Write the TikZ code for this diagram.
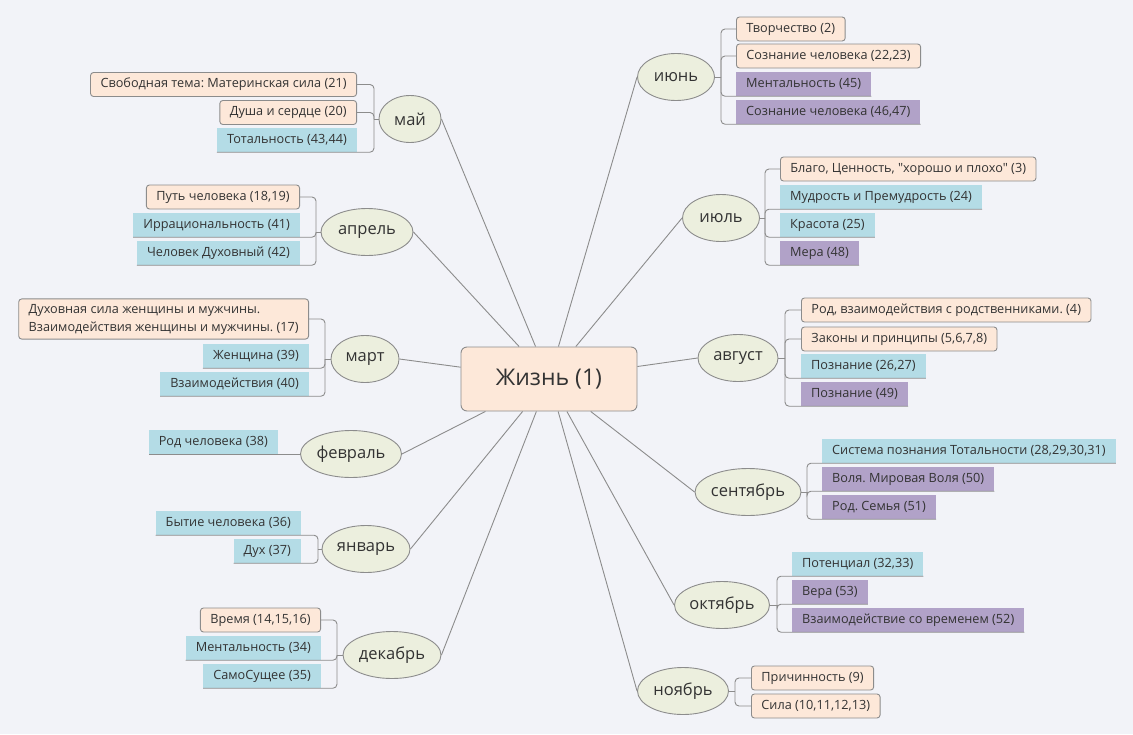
\documentclass[tikz,border=0pt]{standalone}
\usepackage{fontspec}
\setmainfont{Open Sans}[Ligatures=TeXOff]
\usetikzlibrary{shapes.geometric,positioning}
\definecolor{bgcol}{HTML}{F2F3F8}
\definecolor{linecol}{HTML}{8C8C8C}
\definecolor{peach}{HTML}{FDE8D9}
\definecolor{skyblue}{HTML}{B4DCE6}
\definecolor{lilac}{HTML}{B1A2C8}
\definecolor{monthfill}{HTML}{ECEFDE}
\definecolor{ink}{HTML}{333333}
\tikzset
{
	rootnode/.style  = {rectangle, rounded corners=6pt, draw=linecol, line width=0.9pt, fill=peach, minimum width=176pt, minimum height=64pt, text=ink, font=\fontsize{23}{27}\selectfont},
	monthnode/.style = {ellipse, draw=linecol, line width=0.9pt, fill=monthfill, minimum height=47pt, inner sep=0pt, text=ink, font=\fontsize{16.5}{20}\selectfont},
	peachnode/.style = {rectangle, rounded corners=3pt, draw=linecol, line width=0.9pt, fill=peach, minimum height=24pt, inner xsep=10pt, inner ysep=0pt, text=ink, font=\fontsize{12.7}{18}\selectfont},
	bluenode/.style  = {rectangle, fill=skyblue, minimum height=24pt, inner xsep=10pt, inner ysep=0pt, text=ink, font=\fontsize{12.7}{18}\selectfont},
	lilacnode/.style = {bluenode, fill=lilac},
	branch/.style    = {draw=linecol, line width=0.9pt},
	bracket/.style   = {branch, rounded corners=4pt}
}

\begin{document}
\frenchspacing
\begin{tikzpicture}[x=1pt, y=-1pt]
\fill[bgcol] (0,0) rectangle (1133,734);
\useasboundingbox (0,0) rectangle (1133,734);

\node[rootnode] (life) at (549,379) {Жизнь (1)};

% months
\node[monthnode, minimum width=62pt]  (may) at (410,119) {май};
\node[monthnode, minimum width=92pt]  (apr) at (367,232) {апрель};
\node[monthnode, minimum width=68pt]  (mar) at (365,359) {март};
\node[monthnode, minimum width=101pt] (feb) at (351,454) {февраль};
\node[monthnode, minimum width=88pt]  (jan) at (366,549) {январь};
\node[monthnode, minimum width=98pt]  (dec) at (392,655) {декабрь};
\node[monthnode, minimum width=77pt]  (jun) at (676,77)  {июнь};
\node[monthnode, minimum width=77pt]  (jul) at (721,218) {июль};
\node[monthnode, minimum width=80pt]  (aug) at (738,358) {август};
\node[monthnode, minimum width=106pt] (sep) at (748,492) {сентябрь};
\node[monthnode, minimum width=95pt]  (oct) at (722,605) {октябрь};
\node[monthnode, minimum width=91pt]  (nov) at (683,691) {ноябрь};

\foreach \m in {may,apr,mar,feb,jan,dec}
	\draw[branch] (\m.east) -- (life);
\foreach \m in {jun,jul,aug,sep,oct,nov}
	\draw[branch] (\m.west) -- (life);

% left side
\coordinate (mayJ) at (374,119);
\node[peachnode, anchor=east] (may1) at (357,84.5) {Свободная тема: Материнская сила (21)};
\node[peachnode, anchor=east] (may2) at (357,112.5) {Душа и сердце (20)};
\node[bluenode, anchor=east]  (may3) at (357,140) {Тотальность (43,44)};

\coordinate (aprJ) at (316,232);
\node[peachnode, anchor=east] (apr1) at (300,197) {Путь человека (18,19)};
\node[bluenode, anchor=east]  (apr2) at (300,225) {Иррациональность (41)};
\node[bluenode, anchor=east]  (apr3) at (300,253) {Человек Духовный (42)};

\coordinate (marJ) at (325,359);
\node[peachnode, anchor=east, align=left, inner ysep=5pt] (mar1) at (309,319) {Духовная сила женщины и мужчины.\\Взаимодействия женщины и мужчины. (17)};
\node[bluenode, anchor=east]  (mar2) at (309,356) {Женщина (39)};
\node[bluenode, anchor=east]  (mar3) at (309,384) {Взаимодействия (40)};

\node[bluenode, anchor=south east] (feb1) at (278,454) {Род человека (38)};

\coordinate (janJ) at (318,549);
\node[bluenode, anchor=east]  (jan1) at (301,523) {Бытие человека (36)};
\node[bluenode, anchor=east]  (jan2) at (301,551) {Дух (37)};

\coordinate (decJ) at (337,655);
\node[peachnode, anchor=east] (dec1) at (321,620) {Время (14,15,16)};
\node[bluenode, anchor=east]  (dec2) at (321,648) {Ментальность (34)};
\node[bluenode, anchor=east]  (dec3) at (321,676) {СамоСущее (35)};

% right side
\coordinate (junJ) at (721,77);
\node[peachnode, anchor=west] (jun1) at (736,29) {Творчество (2)};
\node[peachnode, anchor=west] (jun2) at (736,56) {Сознание человека (22,23)};
\node[lilacnode, anchor=west] (jun3) at (736,84) {Ментальность (45)};
\node[lilacnode, anchor=west] (jun4) at (736,112) {Сознание человека (46,47)};

\coordinate (julJ) at (765,218);
\node[peachnode, anchor=west] (jul1) at (780,169) {Благо, Ценность, "хорошо и плохо" (3)};
\node[bluenode, anchor=west]  (jul2) at (780,197) {Мудрость и Премудрость (24)};
\node[bluenode, anchor=west]  (jul3) at (780,225) {Красота (25)};
\node[lilacnode, anchor=west] (jul4) at (780,253) {Мера (48)};

\coordinate (augJ) at (785,358);
\node[peachnode, anchor=west] (aug1) at (801,310) {Род, взаимодействия с родственниками. (4)};
\node[peachnode, anchor=west] (aug2) at (801,339) {Законы и принципы (5,6,7,8)};
\node[bluenode, anchor=west]  (aug3) at (801,366) {Познание (26,27)};
\node[lilacnode, anchor=west] (aug4) at (801,394) {Познание (49)};

\coordinate (sepJ) at (807,492);
\node[bluenode, anchor=west]  (sep1) at (822,451) {Система познания Тотальности (28,29,30,31)};
\node[lilacnode, anchor=west] (sep2) at (822,479) {Воля. Мировая Воля (50)};
\node[lilacnode, anchor=west] (sep3) at (822,507) {Род. Семья (51)};

\coordinate (octJ) at (777,605);
\node[bluenode, anchor=west]  (oct1) at (792,564) {Потенциал (32,33)};
\node[lilacnode, anchor=west] (oct2) at (792,592) {Вера (53)};
\node[lilacnode, anchor=west] (oct3) at (792,620) {Взаимодействие со временем (52)};

\coordinate (novJ) at (735,691);
\node[peachnode, anchor=west] (nov1) at (751,678) {Причинность (9)};
\node[peachnode, anchor=west] (nov2) at (751,706) {Сила (10,11,12,13)};

% brackets
\foreach \m in {may,apr,mar,jan,dec}
	\draw[branch] (\m.west) -- (\m J);
\foreach \m in {jun,jul,aug,sep,oct,nov}
	\draw[branch] (\m.east) -- (\m J);
\draw[branch] (feb.west) -- (feb1.south west);

\foreach \c/\a in {may1/east, may2/east, may3/south west}
	\draw[bracket] (mayJ) |- (\c.\a);
\foreach \c/\a in {apr1/east, apr2/south west, apr3/south west}
	\draw[bracket] (aprJ) |- (\c.\a);
\foreach \c/\a in {mar1/east, mar2/south west, mar3/south west}
	\draw[bracket] (marJ) |- (\c.\a);
\foreach \c/\a in {jan1/south west, jan2/south west}
	\draw[bracket] (janJ) |- (\c.\a);
\foreach \c/\a in {dec1/east, dec2/south west, dec3/south west}
	\draw[bracket] (decJ) |- (\c.\a);
\foreach \c/\a in {jun1/west, jun2/west, jun3/south east, jun4/south east}
	\draw[bracket] (junJ) |- (\c.\a);
\foreach \c/\a in {jul1/west, jul2/south east, jul3/south east, jul4/south east}
	\draw[bracket] (julJ) |- (\c.\a);
\foreach \c/\a in {aug1/west, aug2/west, aug3/south east, aug4/south east}
	\draw[bracket] (augJ) |- (\c.\a);
\foreach \c/\a in {sep1/south east, sep2/south east, sep3/south east}
	\draw[bracket] (sepJ) |- (\c.\a);
\foreach \c/\a in {oct1/south east, oct2/south east, oct3/south east}
	\draw[bracket] (octJ) |- (\c.\a);
\foreach \c/\a in {nov1/west, nov2/west}
	\draw[bracket] (novJ) |- (\c.\a);
\end{tikzpicture}
\end{document}
